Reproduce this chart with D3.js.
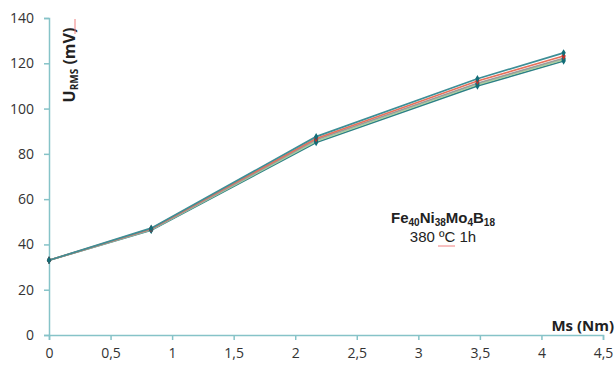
<!DOCTYPE html>
<html>
<head>
<meta charset="utf-8">
<script src="https://cdn.jsdelivr.net/npm/d3@7"></script>
<style>
  body { margin: 0; background: #fff; }
</style>
</head>
<body>
<div id="chart"></div>
<script>
// torque values (Ms, Nm)
const msValues = [0, 0.83, 2.17, 3.48, 4.18];

// U_RMS series (mV), one per measurement
const seriesTop = [33, 47.2, 87.6, 113.2, 124.6];
const seriesRed = [33, 46.9, 86.8, 112.2, 123.2];
const seriesGray = [33, 46.6, 86.2, 111.2, 122.2];
const seriesGreen = [33, 46.5, 85.6, 110.6, 121.6];
const seriesLow = [33, 46.3, 85.0, 110.0, 121.0];

const xTicks = [0, 0.5, 1, 1.5, 2, 2.5, 3, 3.5, 4, 4.5];
const yTicks = [0, 20, 40, 60, 80, 100, 120, 140];

var margin = {top: 18, right: 13, bottom: 30, left: 49},
    width = 616 - margin.left - margin.right,
    height = 365 - margin.top - margin.bottom;

var svg = d3.select("#chart")
    .append("svg")
    .attr("width", 616)
    .attr("height", 365)
    .append("g")
    .attr("transform", "translate(" + margin.left + "," + margin.top + ")");

const x = d3.scaleLinear().domain([0, 4.5]).range([0, 554]);
const y = d3.scaleLinear().domain([0, 140]).range([317, 0]);

const axisColor = "#86c3c8";
const tickFont = "'Open Sans', 'DejaVu Sans', sans-serif";
const annFont = "'Liberation Sans', Arial, sans-serif";

// y axis
var yAxis = svg.append("g")
    .call(d3.axisLeft(y).tickValues(yTicks).tickSize(5).tickPadding(10).tickFormat(d3.format("d")));
yAxis.select(".domain").attr("stroke", axisColor).attr("stroke-width", 1.5);
yAxis.selectAll(".tick line").attr("stroke", axisColor).attr("stroke-width", 1.5);
yAxis.selectAll(".tick text")
    .attr("fill", "#333")
    .style("font-family", tickFont)
    .style("font-size", "14px");

// x axis
var xAxis = svg.append("g")
    .attr("transform", "translate(0," + y(0) + ")")
    .call(d3.axisBottom(x).tickValues(xTicks).tickSize(5).tickPadding(8)
        .tickFormat(function(d){ return String(d).replace(".", ","); }));
xAxis.select(".domain").attr("stroke", axisColor).attr("stroke-width", 1.5);
xAxis.selectAll(".tick line").attr("stroke", axisColor).attr("stroke-width", 1.5);
xAxis.selectAll(".tick text")
    .attr("fill", "#333")
    .style("font-family", tickFont)
    .style("font-size", "14px");

// lines
const series = [
    {values: seriesLow, color: "#2b7f86", marker: "#136d78"},
    {values: seriesGreen, color: "#a7cf9f", marker: "#136d78"},
    {values: seriesGray, color: "#9a9a9a", marker: "#136d78"},
    {values: seriesRed, color: "#e8705a", marker: "#c8302a"},
    {values: seriesTop, color: "#3d8e96", marker: "#136d78"}
];

var line = d3.line()
    .x(function(d, i){ return x(msValues[i]); })
    .y(function(d){ return y(d); });

series.forEach(function(s){
    svg.append("path")
        .datum(s.values)
        .attr("d", line)
        .attr("fill", "none")
        .attr("stroke", s.color)
        .attr("stroke-width", 1.7);
});

series.forEach(function(s){
    svg.selectAll(null)
        .data(s.values)
        .enter().append("path")
        .attr("d", d3.symbol().type(d3.symbolDiamond).size(16))
        .attr("transform", function(d, i){ return "translate(" + x(msValues[i]) + "," + y(d) + ")"; })
        .attr("fill", s.marker);
});

// y title
var yTitle = svg.append("text")
    .attr("transform", "translate(26,47) rotate(-90)")
    .attr("text-anchor", "middle")
    .style("font-family", tickFont)
    .style("font-size", "16px")
    .style("font-weight", "bold")
    .attr("fill", "#222");
yTitle.append("tspan").text("U");
yTitle.append("tspan").style("font-size", "10px").attr("dy", 3).text("RMS");
yTitle.append("tspan").attr("dy", -3).text(" (mV)");
// spell-check squiggle under "mV"
svg.append("line")
    .attr("x1", 26).attr("x2", 26).attr("y1", 1).attr("y2", 16)
    .attr("stroke", "#f08080").attr("stroke-width", 1);

// x title
svg.append("text")
    .attr("x", 565)
    .attr("y", 313)
    .attr("text-anchor", "end")
    .style("font-family", tickFont)
    .style("font-size", "15px")
    .style("font-weight", "bold")
    .attr("fill", "#222")
    .text("Ms (Nm)");

// annotation: composition with subscripts
const formulaParts = [["Fe", false], ["40", true], ["Ni", false], ["38", true], ["Mo", false], ["4", true], ["B", false], ["18", true]];
var ann = svg.append("text")
    .attr("x", 394)
    .attr("y", 205)
    .attr("text-anchor", "middle")
    .style("font-family", annFont)
    .style("font-size", "15px")
    .style("font-weight", "bold")
    .attr("fill", "#222");
formulaParts.forEach(function(p, i){
    var prevSub = i > 0 && formulaParts[i-1][1];
    ann.append("tspan")
        .style("font-size", p[1] ? "10px" : "15px")
        .attr("dy", p[1] && !prevSub ? 3 : (!p[1] && prevSub ? -3 : 0))
        .text(p[0]);
});

svg.append("text")
    .attr("x", 394)
    .attr("y", 224)
    .attr("text-anchor", "middle")
    .style("font-family", annFont)
    .style("font-size", "15px")
    .attr("fill", "#222")
    .text("380 ºC 1h");
// spell-check squiggle under "ºC"
svg.append("line")
    .attr("x1", 389).attr("x2", 406).attr("y1", 228).attr("y2", 228)
    .attr("stroke", "#f08080").attr("stroke-width", 1);
</script>
</body>
</html>
